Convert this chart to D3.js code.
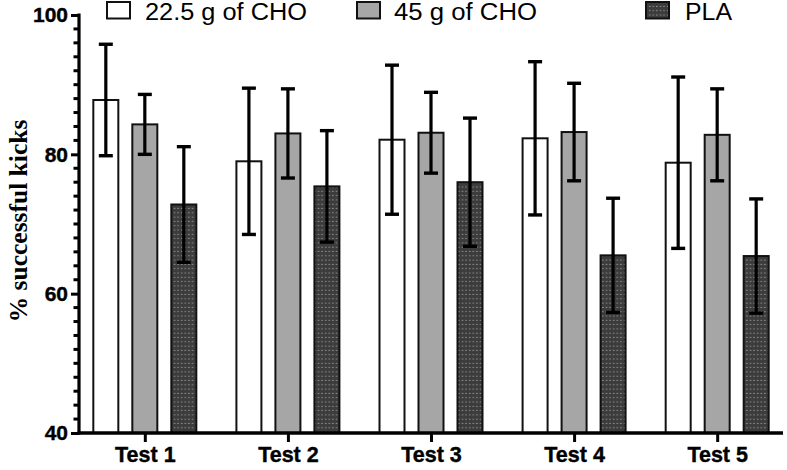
<!DOCTYPE html>
<html>
<head>
<meta charset="utf-8">
<script src="https://cdn.jsdelivr.net/npm/d3@7"></script>
<style>
  html, body { margin: 0; padding: 0; background: #fff; }
  svg { display: block; }
</style>
</head>
<body>
<svg id="chart" width="787" height="470"></svg>
<script>
// ---- data ----
const categories = ["Test 1", "Test 2", "Test 3", "Test 4", "Test 5"];
const seriesNames = ["22.5 g of CHO", "45 g of CHO", "PLA"];
const cho22Mean = [87.8, 79.0, 82.1, 82.3, 78.8];
const cho22SD   = [8.0, 10.5, 10.7, 11.0, 12.3];
const cho45Mean = [84.3, 83.0, 83.1, 83.2, 82.8];
const cho45SD   = [4.3, 6.4, 5.8, 7.0, 6.6];
const plaMean   = [72.8, 75.4, 76.0, 65.5, 65.4];
const plaSD     = [8.3, 8.0, 9.2, 8.2, 8.2];
const yTicks = [40, 60, 80, 100];

const means = [cho22Mean, cho45Mean, plaMean];
const sds = [cho22SD, cho45SD, plaSD];

const svg = d3.select("#chart");

// pattern for PLA
const defs = svg.append("defs");
const pat = defs.append("pattern")
  .attr("id", "dots").attr("patternUnits", "userSpaceOnUse")
  .attr("width", 3.6).attr("height", 4.3);
pat.append("rect").attr("width", 3.6).attr("height", 4.3).attr("fill", "#3c3c3c");
pat.append("rect").attr("x", 1.2).attr("y", 1.6).attr("width", 1).attr("height", 1).attr("fill", "#bdbdbd");

const fills = ["#ffffff", "#a6a6a6", "url(#dots)"];

const x = d3.scalePoint().domain(categories).range([79, 783]).padding(0.46);
const xs = d3.scaleBand().domain(seriesNames).range([-58.5, 58.5])
  .paddingInner(14 / 39).paddingOuter(7 / 39);
const y = d3.scaleLinear().domain([40, 100]).range([433, 15]);

// flatten data
const rows = [];
seriesNames.forEach((s, si) => {
  categories.forEach((c, ci) => {
    rows.push({ s, si, c, m: means[si][ci], sd: sds[si][ci] });
  });
});

// bars
svg.append("g").selectAll("rect").data(rows).join("rect")
  .attr("x", d => x(d.c) + xs(d.s))
  .attr("y", d => y(d.m))
  .attr("width", xs.bandwidth())
  .attr("height", d => y(40) - y(d.m))
  .attr("fill", d => fills[d.si])
  .attr("stroke", "#111")
  .attr("stroke-width", 2);

// error bars
const eb = svg.append("g").attr("stroke", "#000");
rows.forEach(d => {
  const cx = x(d.c) + xs(d.s) + xs.bandwidth() / 2;
  eb.append("line").attr("x1", cx).attr("x2", cx)
    .attr("y1", y(d.m + d.sd)).attr("y2", y(d.m - d.sd)).attr("stroke-width", 3.2);
  [d.m + d.sd, d.m - d.sd].forEach(v => {
    eb.append("line").attr("x1", cx - 7).attr("x2", cx + 7)
      .attr("y1", y(v)).attr("y2", y(v)).attr("stroke-width", 3.4);
  });
});

// y axis
const yAxis = d3.axisLeft(y).tickValues(yTicks).tickSize(8).tickPadding(3).tickFormat(d3.format("d"));
const gy = svg.append("g").attr("transform", "translate(79,0)").call(yAxis);
gy.select(".domain").attr("stroke", "#000").attr("stroke-width", 3.2).attr("d", "M0,13.5V434.5");
gy.selectAll(".tick line").attr("stroke-width", 3);
gy.selectAll(".tick text")
  .attr("font-family", "Liberation Sans, Arial, sans-serif")
  .attr("font-weight", "bold").attr("font-size", 21).attr("fill", "#000")
  .attr("stroke", "#000").attr("stroke-width", 0.4);
// minor ticks
const minor = d3.range(42, 100, 2).filter(v => v % 20 !== 0);
gy.append("g").selectAll("line").data(minor).join("line")
  .attr("x1", -5.5).attr("x2", 0).attr("y1", d => y(d)).attr("y2", d => y(d))
  .attr("stroke", "#000").attr("stroke-width", 3);

// x axis
const xAxis = d3.axisBottom(x).tickSize(9).tickPadding(5);
const gx = svg.append("g").attr("transform", "translate(0,433)").call(xAxis);
gx.select(".domain").attr("stroke", "#000").attr("stroke-width", 3.6).attr("d", "M77.5,0H783");
gx.selectAll(".tick line").attr("stroke-width", 3);
gx.selectAll(".tick text")
  .attr("font-family", "Liberation Sans, Arial, sans-serif")
  .attr("font-weight", "bold").attr("font-size", 21.5).attr("fill", "#000")
  .attr("stroke", "#000").attr("stroke-width", 0.4)
  .attr("dy", "0.71em");

// y title
svg.append("text")
  .attr("transform", "translate(27,221) rotate(-90)")
  .attr("text-anchor", "middle")
  .attr("font-family", "Liberation Serif, Times New Roman, serif")
  .attr("font-weight", "bold").attr("font-size", 25.5)
  .text("% successful kicks");

// legend
const legendX = [107, 357, 646];
const legendTextX = [145, 394, 685];
const legendTextW = [162, 143, 47];
const lg = svg.append("g");
seriesNames.forEach((s, i) => {
  lg.append("rect").attr("x", legendX[i]).attr("y", 2).attr("width", 23).attr("height", 16.5)
    .attr("fill", fills[i]).attr("stroke", "#111").attr("stroke-width", 2);
  lg.append("text").attr("x", legendTextX[i]).attr("y", 19.5)
    .attr("font-family", "Liberation Sans, Arial, sans-serif")
    .attr("font-size", 23).attr("fill", "#000")
    .attr("textLength", legendTextW[i]).attr("lengthAdjust", "spacingAndGlyphs")
    .text(s);
});
</script>
</body>
</html>
